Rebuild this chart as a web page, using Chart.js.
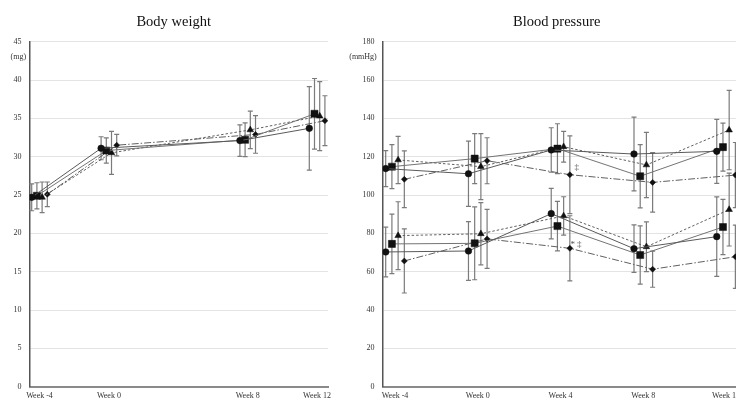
<!DOCTYPE html>
<html>
<head>
<meta charset="utf-8">
<script src="https://cdn.jsdelivr.net/npm/chart.js@4.4.1/dist/chart.umd.min.js"></script>
<style>
  html, body { margin: 0; padding: 0; background: #fff; }
  body { width: 736px; height: 400px; overflow: hidden; position: relative; }
  canvas { position: absolute; top: 0; }
  #bw-chart { left: 0; }
  #bp-chart { left: 343px; }
</style>
</head>
<body>
<canvas id="bw-chart" width="347" height="400"></canvas>
<canvas id="bp-chart" width="427" height="400"></canvas>
<script>
// body weight (mg), weeks -4, 0, 8, 12
const bwWeeks = [-4, 0, 8, 12];
const bwCircle = [24.7, 31.1, 32.1, 33.7];
const bwCircleSd = [1.75, 1.5, 2.05, 5.45];
const bwSquare = [24.9, 30.8, 32.2, 35.6];
const bwSquareSd = [1.7, 1.65, 2.2, 4.6];
const bwTriangle = [24.7, 30.5, 33.5, 35.3];
const bwTriangleSd = [2.0, 2.8, 2.45, 4.5];
const bwDiamond = [25.1, 31.5, 32.9, 34.7];
const bwDiamondSd = [1.6, 1.4, 2.45, 3.25];

// blood pressure (mmHg), weeks -4, 0, 4, 8, 12
const bpWeeks = [-4, 0, 4, 8, 12];
const sbpCircle = [113.8, 111.1, 123.5, 121.4, 122.8];
const sbpCircleSd = [9.4, 17, 11.6, 19.2, 16.7];
const sbpSquare = [114.8, 119.0, 124.2, 109.8, 125.0];
const sbpSquareSd = [11.5, 13, 13, 16.5, 12.5];
const sbpTriangle = [118.3, 114.8, 125.2, 115.7, 133.9];
const sbpTriangleSd = [12.3, 17.2, 8, 17, 20.7];
const sbpDiamond = [108.2, 117.9, 110.6, 106.6, 110.4];
const sbpDiamondSd = [14.8, 12, 20.3, 15.5, 17];
const dbpCircle = [70.3, 70.8, 90.3, 72.0, 78.3];
const dbpCircleSd = [13, 15.3, 13.2, 12.4, 20.7];
const dbpSquare = [74.5, 74.8, 83.8, 68.7, 83.3];
const dbpSquareSd = [15.5, 19, 12.9, 15.2, 14.4];
const dbpTriangle = [78.8, 79.8, 89.1, 73.0, 92.4];
const dbpTriangleSd = [17.7, 16.2, 10, 13, 19];
const dbpDiamond = [65.6, 77.1, 72.2, 61.3, 67.8];
const dbpDiamondSd = [16.7, 15.4, 17, 9.4, 16.5];

// significance marks near week 4
const bpNoteWeek = [4.78, 4.59, 4.91];
const bpNoteValue = [114.3, 74.1, 74.1];
const bpNoteText = ['‡', '*', '‡'];

const serif = "'Liberation Serif', 'Times New Roman', serif";
const seriesOffset = [-0.45, -0.15, 0.15, 0.45];
const seriesStyle = [
  { pointStyle: 'circle', pointRadius: 3.3, borderColor: '#5a5a5a', borderDash: [] },
  { pointStyle: 'rect', pointRadius: 5, borderColor: '#737373', borderDash: [] },
  { pointStyle: 'triangle', pointRadius: 3.8, borderColor: '#606060', borderDash: [2.5, 2] },
  { pointStyle: 'rectRot', pointRadius: 3, borderColor: '#606060', borderDash: [7, 2, 1.5, 2] }
];

function series(weeks, mean, sd, k) {
  return {
    data: weeks.map((w, i) => ({ x: w + seriesOffset[k], y: mean[i], yMin: mean[i] - sd[i], yMax: mean[i] + sd[i] })),
    ...seriesStyle[k],
    borderWidth: 1,
    pointBackgroundColor: '#111',
    pointBorderColor: '#111',
    pointBorderWidth: 0.5,
    tension: 0,
    fill: false
  };
}

const errorBars = {
  id: 'errorBars',
  beforeDatasetsDraw(chart) {
    const { ctx, scales: { x, y } } = chart;
    ctx.save();
    ctx.strokeStyle = '#7b7b7b';
    ctx.lineWidth = 1.2;
    chart.data.datasets.forEach(ds => ds.data.forEach(p => {
      const px = x.getPixelForValue(p.x);
      const top = y.getPixelForValue(p.yMax);
      const bot = y.getPixelForValue(p.yMin);
      ctx.beginPath();
      ctx.moveTo(px, top); ctx.lineTo(px, bot);
      ctx.moveTo(px - 2.5, top); ctx.lineTo(px + 2.5, top);
      ctx.moveTo(px - 2.5, bot); ctx.lineTo(px + 2.5, bot);
      ctx.stroke();
    }));
    ctx.restore();
  }
};

// title, unit label and significance marks
const extraText = {
  id: 'extraText',
  afterDraw(chart, args, opts) {
    const { ctx, chartArea, scales: { x, y } } = chart;
    ctx.save();
    ctx.textAlign = 'center';
    ctx.textBaseline = 'middle';
    ctx.fillStyle = '#111';
    ctx.font = '14.5px ' + serif;
    ctx.fillText(opts.title, opts.titleX, 22);
    ctx.font = '8px ' + serif;
    ctx.fillStyle = '#333';
    ctx.fillText(opts.unit, chartArea.left - opts.unitDx, chartArea.top + 15.5);
    ctx.fillStyle = '#555';
    ctx.font = '9px ' + serif;
    (opts.notes || []).forEach(n => ctx.fillText(n.text, x.getPixelForValue(n.x), y.getPixelForValue(n.y)));
    ctx.restore();
  }
};

function makeChart(id, cfg) {
  return new Chart(document.getElementById(id), {
    type: 'line',
    data: { datasets: cfg.datasets },
    plugins: [errorBars, extraText],
    options: {
      responsive: false,
      animation: false,
      layout: { padding: { left: 0, right: cfg.padRight, top: 41.7, bottom: 0 } },
      plugins: {
        legend: { display: false },
        tooltip: { enabled: false },
        title: { display: false },
        extraText: { title: cfg.title, titleX: cfg.titleX, unit: cfg.unit, unitDx: cfg.unitDx, notes: cfg.notes }
      },
      scales: {
        x: {
          type: 'linear',
          min: cfg.xMin,
          max: cfg.xMax,
          afterBuildTicks: scale => { scale.ticks = cfg.weeks.map(v => ({ value: v })); },
          afterFit: scale => { scale.height = 13.3; },
          grid: { display: false, drawTicks: false },
          border: { display: true, color: '#8a8a8a', width: 2 },
          ticks: {
            autoSkip: false,
            maxRotation: 0,
            padding: 4,
            color: '#333',
            font: { family: serif, size: 8 },
            callback: v => 'Week ' + v
          }
        },
        y: {
          min: 0,
          max: cfg.yMax,
          afterFit: scale => { scale.width = cfg.yWidth; },
          grid: { color: '#e3e3e3', lineWidth: 1, drawTicks: false },
          border: { display: true, color: '#555', width: 1.5 },
          ticks: {
            stepSize: cfg.yStep,
            padding: 8,
            color: '#333',
            font: { family: serif, size: 8 }
          }
        }
      }
    }
  });
}

makeChart('bw-chart', {
  title: 'Body weight',
  titleX: 173.7,
  unit: '(mg)',
  unitDx: 11.3,
  weeks: bwWeeks,
  xMin: -4.571,
  xMax: 12.628,
  yMax: 45,
  yStep: 5,
  padRight: 19,
  yWidth: 29.6,
  datasets: [
    series(bwWeeks, bwCircle, bwCircleSd, 0),
    series(bwWeeks, bwSquare, bwSquareSd, 1),
    series(bwWeeks, bwTriangle, bwTriangleSd, 2),
    series(bwWeeks, bwDiamond, bwDiamondSd, 3)
  ]
});

makeChart('bp-chart', {
  title: 'Blood pressure',
  titleX: 213.7,
  unit: '(mmHg)',
  unitDx: 19.6,
  weeks: bpWeeks,
  xMin: -4.6,
  xMax: 12.77,
  yMax: 180,
  yStep: 20,
  padRight: 28,
  yWidth: 39.6,
  notes: bpNoteText.map((t, i) => ({ text: t, x: bpNoteWeek[i], y: bpNoteValue[i] })),
  datasets: [
    series(bpWeeks, sbpCircle, sbpCircleSd, 0),
    series(bpWeeks, sbpSquare, sbpSquareSd, 1),
    series(bpWeeks, sbpTriangle, sbpTriangleSd, 2),
    series(bpWeeks, sbpDiamond, sbpDiamondSd, 3),
    series(bpWeeks, dbpCircle, dbpCircleSd, 0),
    series(bpWeeks, dbpSquare, dbpSquareSd, 1),
    series(bpWeeks, dbpTriangle, dbpTriangleSd, 2),
    series(bpWeeks, dbpDiamond, dbpDiamondSd, 3)
  ]
});
</script>
</body>
</html>
